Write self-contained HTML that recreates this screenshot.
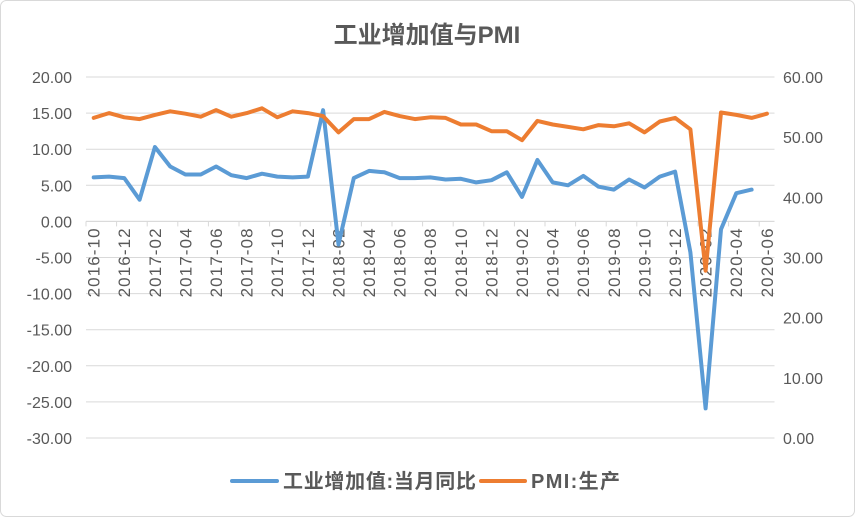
<!DOCTYPE html>
<html><head><meta charset="utf-8"><style>
body{margin:0;background:#fff;}
svg{display:block;font-family:"Liberation Sans","Noto Sans CJK SC",sans-serif;}
</style></head><body>
<svg id="c" width="855" height="517" viewBox="0 0 855 517">
<rect x="0.5" y="0.5" width="854" height="516" rx="6" fill="#fff" stroke="#d9d9d9"/>
<text x="427" y="43" text-anchor="middle" font-size="24" font-weight="bold" fill="#595959">工业增加值与PMI</text>
<g id="grid"></g><g id="ylab"></g><g id="y2lab"></g><g id="xax"></g><g id="series"></g>
<g>
<line x1="232" y1="481" x2="277" y2="481" stroke="#5b9bd5" stroke-width="4" stroke-linecap="round"/>
<text x="283" y="488" font-size="20" font-weight="bold" fill="#595959" textLength="193">工业增加值:当月同比</text>
<line x1="481" y1="481" x2="525" y2="481" stroke="#ed7d31" stroke-width="4" stroke-linecap="round"/>
<text x="531" y="488" font-size="20" font-weight="bold" fill="#595959" textLength="89">PMI:生产</text>
</g>
</svg>
<script>
const categories=["2016-10","2016-11","2016-12","2017-01","2017-02","2017-03","2017-04","2017-05","2017-06","2017-07","2017-08","2017-09","2017-10","2017-11","2017-12","2018-01","2018-02","2018-03","2018-04","2018-05","2018-06","2018-07","2018-08","2018-09","2018-10","2018-11","2018-12","2019-01","2019-02","2019-03","2019-04","2019-05","2019-06","2019-07","2019-08","2019-09","2019-10","2019-11","2019-12","2020-01","2020-02","2020-03","2020-04","2020-05","2020-06"];
const industryYoY=[6.1,6.2,6.0,3.0,10.3,7.6,6.5,6.5,7.6,6.4,6.0,6.6,6.2,6.1,6.2,15.4,-3.2,6.0,7.0,6.8,6.0,6.0,6.1,5.8,5.9,5.4,5.7,6.8,3.4,8.5,5.4,5.0,6.3,4.8,4.4,5.8,4.7,6.2,6.9,-4.3,-25.9,-1.1,3.9,4.4,null];
const pmiProduction=[53.2,54.0,53.3,53.0,53.7,54.3,53.9,53.4,54.5,53.4,54.0,54.8,53.3,54.3,54.0,53.5,50.8,53.0,53.0,54.2,53.5,53.0,53.3,53.2,52.1,52.1,51.0,51.0,49.5,52.7,52.1,51.7,51.3,52.0,51.8,52.3,50.8,52.6,53.2,51.3,27.8,54.1,53.7,53.2,53.9];
const leftTicks=[20,15,10,5,0,-5,-10,-15,-20,-25,-30];
const rightTicks=[60,50,40,30,20,10,0];
const NS="http://www.w3.org/2000/svg";
const L=86,R=774.5,T=77,B=438;
const bw=(R-L)/categories.length;
const xPos=i=>L+bw*(i+0.5);
const yL=v=>B-(v+30)/50*(B-T);
const yR=v=>B-v/60*(B-T);
function mk(tag,attrs,parent){const e=document.createElementNS(NS,tag);for(const k in attrs)e.setAttribute(k,attrs[k]);document.getElementById(parent).appendChild(e);return e;}
leftTicks.forEach(v=>{
 const g=mk('line',{x1:L,x2:R,y1:yL(v),y2:yL(v),stroke:'#d9d9d9','stroke-width':1},'grid');
 
 
 const t=mk('text',{x:72,y:yL(v)+6,'text-anchor':'end','font-size':16,fill:'#595959'},'ylab');
 t.textContent=v.toFixed(2);
 
 
});
rightTicks.forEach(v=>{
 const t=mk('text',{x:783,y:yR(v)+6,'font-size':16,fill:'#595959'},'y2lab');
 t.textContent=v.toFixed(2);
 
 
});
const y0=yL(0);
const ax=mk('line',{x1:L,x2:R,y1:y0,y2:y0,stroke:'#d9d9d9','stroke-width':1},'xax');


for(let i=0;i<=categories.length;i+=2){
 const x=L+bw*i;
 const tk=mk('line',{x1:x,x2:x,y1:y0,y2:y0+5,stroke:'#d9d9d9'},'xax');
 
 
}
categories.forEach((c,i)=>{
 if(i%2)return;
 const x=xPos(i)+6,y=y0+7;
 const t=mk('text',{x:x,y:y,'text-anchor':'end','font-size':17,fill:'#595959',textLength:69,transform:`rotate(-90 ${x} ${y})`},'xax');
 t.textContent=c;
 
 
});
function line(data,yf,color,name){
 let d='',pen=false;
 data.forEach((v,i)=>{if(v===null){pen=false;return;}d+=(pen?'L':'M')+xPos(i).toFixed(1)+' '+yf(v).toFixed(1)+' ';pen=true;});
 const p=mk('path',{d:d,fill:'none',stroke:color,'stroke-width':4,'stroke-linejoin':'round','stroke-linecap':'round'},'series');
 
 
}
line(industryYoY,yL,'#5b9bd5','industry-yoy-line');
line(pmiProduction,yR,'#ed7d31','pmi-production-line');
</script>
</body></html>
